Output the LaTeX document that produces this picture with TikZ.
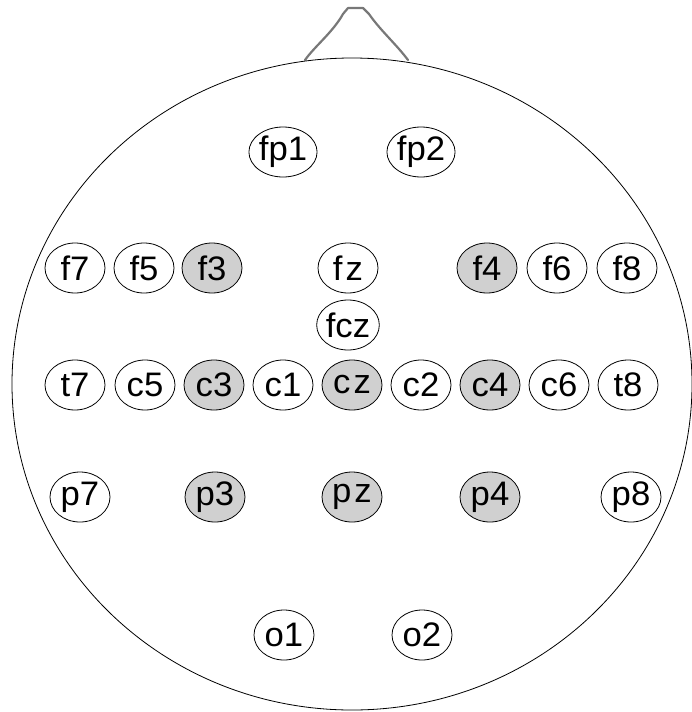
\documentclass[tikz,border=0pt]{standalone}
\usepackage{fontspec}
\setmainfont{Liberation Sans}
\usetikzlibrary{shapes.geometric}
\definecolor{elecgrey}{RGB}{208,208,208}
\definecolor{nosegrey}{RGB}{120,120,120}
\tikzset{
  elec/.style={draw=black, line width=0.8pt, ellipse, minimum width=60pt, minimum height=50pt, inner sep=0pt, fill=white,
    font=\fontsize{34}{34}\selectfont},
  active/.style={elec, fill=elecgrey},
  head/.style={draw=black, line width=0.8pt},
  nose/.style={draw=nosegrey, line width=2.2pt, line join=round, line cap=round}
}
\newcommand{\wlab}[1]{\scalebox{1.02}[1]{#1}}
\newcommand{\zsp}{\hspace{3pt}}
\begin{document}
\begin{tikzpicture}[x=1pt,y=1pt]
\useasboundingbox (0,0) rectangle (691,-712);
% nose
\draw[nose] (305,-60) .. controls (315,-46) and (333,-32) .. (343,-14) -- (348,-8) -- (363,-8) -- (369,-14)
  .. controls (380,-30) and (396,-44) .. (408,-60);
% head
\draw[head, fill=white] (352,-384) ellipse [x radius=340, y radius=326];
% electrodes
\node[elec] (fp1) at (283,-152) {\wlab{fp1}};
\node[elec] (fp2) at (421,-152) {\wlab{fp2}};
\node[elec] (f7) at (75,-268) {\wlab{f7}};
\node[elec] (f5) at (144,-268) {\wlab{f5}};
\node[active] (f3) at (212,-268) {\wlab{f3}};
\node[elec] (fz) at (348,-268) {\wlab{f\zsp z}};
\node[active] (f4) at (487,-268) {\wlab{f4}};
\node[elec] (f6) at (557,-268) {\wlab{f6}};
\node[elec] (f8) at (627,-268) {\wlab{f8}};
\node[elec] (fcz) at (348,-325) {\wlab{fcz}};
\node[elec] (t7) at (75,-385) {\wlab{t7}};
\node[elec] (c5) at (145,-385) {\wlab{c5}};
\node[active] (c3) at (214,-385) {\wlab{c3}};
\node[elec] (c1) at (283,-385) {\wlab{c1}};
\node[active] (cz) at (352,-385) {\wlab{c\zsp z}};
\node[elec] (c2) at (421,-385) {\wlab{c2}};
\node[active] (c4) at (490,-385) {\wlab{c4}};
\node[elec] (c6) at (559,-385) {\wlab{c6}};
\node[elec] (t8) at (628,-385) {\wlab{t8}};
\node[elec] (p7) at (80,-497) {\wlab{p7}};
\node[active] (p3) at (215,-497) {\wlab{p3}};
\node[active] (pz) at (352,-497) {\wlab{p\zsp z}};
\node[active] (p4) at (490,-497) {\wlab{p4}};
\node[elec] (p8) at (631,-497) {\wlab{p8}};
\node[elec] (o1) at (284,-635) {\wlab{o1}};
\node[elec] (o2) at (422,-635) {\wlab{o2}};
\end{tikzpicture}
\end{document}
